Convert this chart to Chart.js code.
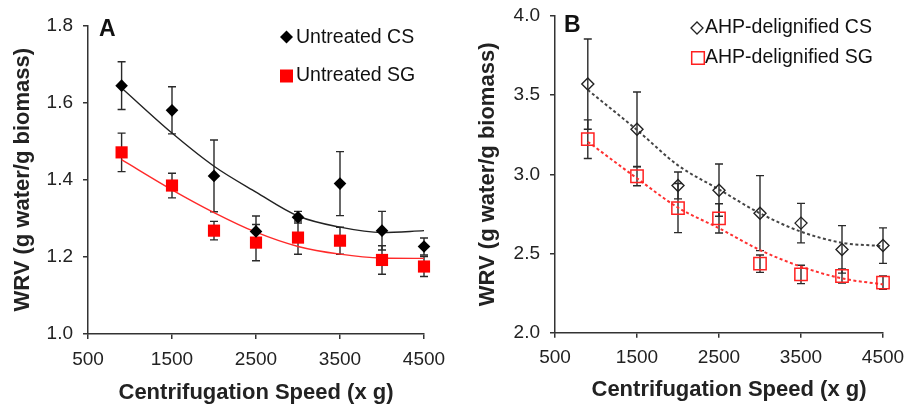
<!DOCTYPE html>
<html>
<head>
<meta charset="utf-8">
<script src="https://cdn.jsdelivr.net/npm/chart.js@4/dist/chart.umd.min.js"></script>
<style>
  html, body { margin: 0; padding: 0; background: #fff; }
  #wrap { position: relative; width: 907px; height: 406px; overflow: hidden; }
  canvas { position: absolute; top: 0; }
</style>
</head>
<body>
<div id="wrap">
  <canvas id="chartA" width="452" height="406" style="left:0px"></canvas>
  <canvas id="chartB" width="455" height="406" style="left:452px"></canvas>
</div>
<script>
// ---- data ----
const speeds = [900, 1500, 2000, 2500, 3000, 3500, 4000, 4500];
const xTicks = [500, 1500, 2500, 3500, 4500];

// Panel A
const untreatedCS      = [1.644, 1.580, 1.410, 1.266, 1.303, 1.390, 1.268, 1.227];
const untreatedCSErr   = [0.062, 0.061, 0.093, 0.040, 0.015, 0.083, 0.050, 0.022];
const untreatedSG      = [1.471, 1.385, 1.268, 1.237, 1.250, 1.242, 1.192, 1.175];
const untreatedSGErr   = [0.050, 0.032, 0.024, 0.047, 0.043, 0.035, 0.037, 0.026];
const untreatedCSTrend = [1.638, 1.521, 1.435, 1.368, 1.306, 1.277, 1.263, 1.268];
const untreatedSGTrend = [1.452, 1.374, 1.315, 1.264, 1.227, 1.207, 1.197, 1.196];
const yTicksA = [1.0, 1.2, 1.4, 1.6, 1.8];

// Panel B
const ahpCS      = [3.570, 3.285, 2.930, 2.900, 2.755, 2.692, 2.526, 2.550];
const ahpCSErr   = [0.285, 0.235, 0.085, 0.165, 0.237, 0.125, 0.150, 0.112];
const ahpSG      = [3.222, 2.988, 2.787, 2.722, 2.436, 2.368, 2.358, 2.316];
const ahpSGErr   = [0.122, 0.060, 0.155, 0.092, 0.055, 0.058, 0.045, 0.042];
const ahpCSTrend = [3.533, 3.280, 3.057, 2.905, 2.754, 2.638, 2.568, 2.547];
const ahpSGTrend = [3.206, 2.975, 2.790, 2.660, 2.522, 2.417, 2.343, 2.305];
const yTicksB = [2.0, 2.5, 3.0, 3.5, 4.0];

const xTitle = 'Centrifugation Speed (x g)';
const yTitle = 'WRV (g water/g biomass)';
const FONT = '"Liberation Sans", Arial, Helvetica, sans-serif';

function pts(xs, ys) { return xs.map((x, i) => ({ x: x, y: ys[i] })); }

// error bars drawn beneath the markers
const errorBarPlugin = {
  id: 'errorBars',
  beforeDatasetsDraw(chart) {
    const ctx = chart.ctx;
    const xs = chart.scales.x, ys = chart.scales.y;
    ctx.save();
    chart.data.datasets.forEach(ds => {
      if (!ds.errors) return;
      ctx.strokeStyle = '#2a2a2a';
      ctx.lineWidth = 1.4;
      ds.data.forEach((p, i) => {
        const e = ds.errors[i];
        const px = xs.getPixelForValue(p.x);
        const yt = ys.getPixelForValue(p.y + e);
        const yb = ys.getPixelForValue(p.y - e);
        ctx.beginPath();
        ctx.moveTo(px, yt); ctx.lineTo(px, yb);
        ctx.moveTo(px - 4, yt); ctx.lineTo(px + 4, yt);
        ctx.moveTo(px - 4, yb); ctx.lineTo(px + 4, yb);
        ctx.stroke();
      });
    });
    ctx.restore();
  }
};

// legend, panel letter and (optional) x title drawn by the page
function makeAnnotPlugin(a) {
  return {
    id: 'annot',
    afterDraw(chart) {
      const ctx = chart.ctx;
      const area = chart.chartArea;
      ctx.save();
      ctx.textBaseline = 'middle';
      ctx.textAlign = 'left';
      ctx.fillStyle = '#111';
      ctx.font = 'bold 23px ' + FONT;
      ctx.fillText(a.letter.text, a.letter.x, a.letter.y);
      ctx.font = '19.5px ' + FONT;
      a.items.forEach(it => {
        ctx.beginPath();
        if (it.shape === 'diamond') {
          const r = it.r;
          ctx.moveTo(it.mx - r, it.my); ctx.lineTo(it.mx, it.my - r);
          ctx.lineTo(it.mx + r, it.my); ctx.lineTo(it.mx, it.my + r);
          ctx.closePath();
        } else {
          const h = it.r;
          ctx.rect(it.mx - h, it.my - h, 2 * h, 2 * h);
        }
        if (it.fillColor) { ctx.fillStyle = it.fillColor; ctx.fill(); }
        if (it.strokeColor) { ctx.strokeStyle = it.strokeColor; ctx.lineWidth = it.lw; ctx.stroke(); }
        ctx.fillStyle = '#111';
        ctx.fillText(it.label, it.tx, it.ty);
      });
      if (a.xTitle) {
        ctx.font = 'bold 22px ' + FONT;
        ctx.fillStyle = '#222';
        ctx.textAlign = 'center';
        ctx.fillText(a.xTitle.text, (area.left + area.right) / 2 + a.xTitle.dx, a.xTitle.y);
      }
      ctx.restore();
    }
  };
}

function makeChart(id, cfg) {
  const axisColor = '#333';
  return new Chart(document.getElementById(id), {
    type: 'scatter',
    data: { datasets: cfg.datasets },
    plugins: [errorBarPlugin, makeAnnotPlugin(cfg.annot)],
    options: {
      responsive: false,
      animation: false,
      devicePixelRatio: 1,
      clip: false,
      layout: { padding: cfg.padding },
      plugins: {
        legend: { display: false },
        tooltip: { enabled: false }
      },
      scales: {
        x: {
          type: 'linear', min: 500, max: 4500,
          afterBuildTicks: s => { s.ticks = xTicks.map(v => ({ value: v })); },
          afterFit: s => { s.height = cfg.xHeight; s.paddingLeft = 0; s.paddingRight = 0; },
          border: { color: axisColor, width: 1.5 },
          grid: { drawOnChartArea: false, drawTicks: true, tickLength: 5, color: axisColor, lineWidth: 1.5 },
          ticks: { color: '#222', font: { family: FONT, size: 19 }, padding: 9, maxRotation: 0, autoSkip: false,
                   callback: v => String(v) },
          title: { display: cfg.chartXTitle, text: xTitle, color: '#222',
                   font: { family: FONT, size: 22, weight: 'bold' }, padding: { top: 0, bottom: 0 } }
        },
        y: {
          type: 'linear', min: cfg.yMin, max: cfg.yMax,
          afterBuildTicks: s => { s.ticks = cfg.yTicks.map(v => ({ value: v })); },
          afterFit: s => { s.width = cfg.yWidth; s.paddingTop = 0; s.paddingBottom = 0; },
          border: { color: axisColor, width: 1.5 },
          grid: { drawOnChartArea: false, drawTicks: true, tickLength: 5, color: axisColor, lineWidth: 1.5 },
          ticks: { color: '#222', font: { family: FONT, size: 19 }, padding: 10, autoSkip: false,
                   callback: v => v.toFixed(1) },
          title: { display: true, text: yTitle, color: '#222',
                   font: { family: FONT, size: 22, weight: 'bold' }, padding: { top: cfg.yTitlePad, bottom: 0 } }
        }
      }
    }
  });
}

// Panel A
makeChart('chartA', {
  padding: { left: 0, right: 28, top: 25.5, bottom: 0 },
  xHeight: 72, yWidth: 88, yTitlePad: 10, chartXTitle: true,
  yMin: 1.0, yMax: 1.8, yTicks: yTicksA,
  datasets: [
    { label: 'Untreated CS', data: pts(speeds, untreatedCS), errors: untreatedCSErr, clip: false,
      pointStyle: 'rectRot', pointRadius: 6.3, backgroundColor: '#000', borderColor: '#000', borderWidth: 0, showLine: false },
    { label: 'Untreated SG', data: pts(speeds, untreatedSG), errors: untreatedSGErr, clip: false,
      pointStyle: 'rect', pointRadius: 8.6, backgroundColor: '#ff0000', borderColor: '#ff0000', borderWidth: 0, showLine: false },
    { label: 'CS fit', data: pts(speeds, untreatedCSTrend), showLine: true, pointRadius: 0, clip: false,
      borderColor: '#222', borderWidth: 1.4, cubicInterpolationMode: 'monotone', fill: false },
    { label: 'SG fit', data: pts(speeds, untreatedSGTrend), showLine: true, pointRadius: 0, clip: false,
      borderColor: '#ff2a2a', borderWidth: 1.4, cubicInterpolationMode: 'monotone', fill: false }
  ],
  annot: {
    letter: { text: 'A', x: 99, y: 30 },
    items: [
      { shape: 'diamond', r: 6.5, mx: 286.5, my: 37, fillColor: '#000', label: 'Untreated CS', tx: 296, ty: 38 },
      { shape: 'square', r: 6.5, mx: 286.5, my: 76, fillColor: '#ff0000', label: 'Untreated SG', tx: 296, ty: 76 }
    ]
  }
});

// Panel B
makeChart('chartB', {
  padding: { left: 0, right: 24, top: 16, bottom: 0 },
  xHeight: 73.3, yWidth: 103, yTitlePad: 23, chartXTitle: false,
  yMin: 2.0, yMax: 4.0, yTicks: yTicksB,
  datasets: [
    { label: 'AHP-delignified CS', data: pts(speeds, ahpCS), errors: ahpCSErr, clip: false,
      pointStyle: 'rectRot', pointRadius: 6, backgroundColor: 'rgba(0,0,0,0)', borderColor: '#222', borderWidth: 1.4, showLine: false },
    { label: 'AHP-delignified SG', data: pts(speeds, ahpSG), errors: ahpSGErr, clip: false,
      pointStyle: 'rect', pointRadius: 8.7, backgroundColor: 'rgba(0,0,0,0)', borderColor: '#ff2020', borderWidth: 1.5, showLine: false },
    { label: 'CS fit', data: pts(speeds, ahpCSTrend), showLine: true, pointRadius: 0, clip: false,
      borderColor: '#444', borderWidth: 2, borderDash: [3, 2.5], cubicInterpolationMode: 'monotone', fill: false },
    { label: 'SG fit', data: pts(speeds, ahpSGTrend), showLine: true, pointRadius: 0, clip: false,
      borderColor: '#ff3030', borderWidth: 2, borderDash: [3, 2.5], cubicInterpolationMode: 'monotone', fill: false }
  ],
  annot: {
    letter: { text: 'B', x: 112, y: 26 },
    xTitle: { text: xTitle, dx: 10, y: 390 },
    items: [
      { shape: 'diamond', r: 6, mx: 245, my: 28, strokeColor: '#222', lw: 1.3, label: 'AHP-delignified CS', tx: 253, ty: 28 },
      { shape: 'square', r: 6.3, mx: 246, my: 58, strokeColor: '#ff2020', lw: 1.5, label: 'AHP-delignified SG', tx: 253, ty: 58 }
    ]
  }
});
</script>
</body>
</html>
